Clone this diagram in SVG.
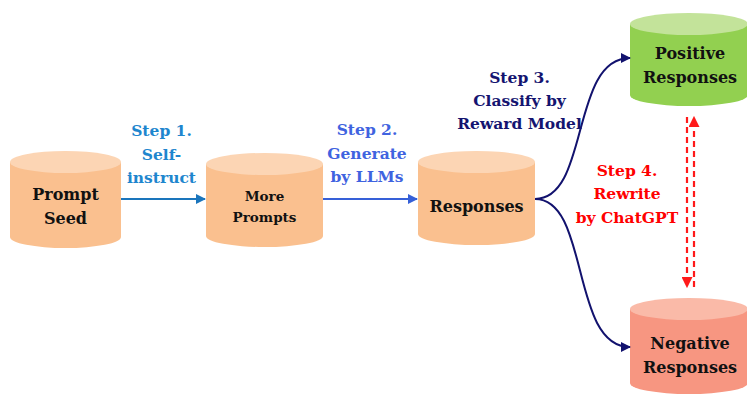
<svg xmlns="http://www.w3.org/2000/svg" width="747" height="394" viewBox="0 0 747 394">
<defs>
<style>
text{font-family:'DejaVu Serif',serif;font-weight:bold;text-anchor:middle}
.node{font-size:16px;fill:#111}
.small{font-size:13.5px;fill:#111}
.step{font-size:15.5px}
.orange .body{fill:#FAC08F}
.orange .top{fill:#FCD5B4}
.green .body{fill:#92D050}
.green .top{fill:#C3E39A}
.red .body{fill:#F79681}
.red .top{fill:#FABAA8}
</style>
<marker id="a1" viewBox="0 0 10 10" refX="9" refY="5" markerWidth="5" markerHeight="5" orient="auto"><path d="M0,0 L10,5 L0,10 Z" fill="#1A75BC"/></marker>
<marker id="a2" viewBox="0 0 10 10" refX="9" refY="5" markerWidth="5" markerHeight="5" orient="auto"><path d="M0,0 L10,5 L0,10 Z" fill="#3660D8"/></marker>
<marker id="a3" viewBox="0 0 10 10" refX="9" refY="5" markerWidth="5" markerHeight="5" orient="auto"><path d="M0,0 L10,5 L0,10 Z" fill="#12126E"/></marker>
<marker id="a4" viewBox="0 0 10 10" refX="9" refY="5" markerWidth="5" markerHeight="5" orient="auto"><path d="M0,0 L10,5 L0,10 Z" fill="#FF1A1A"/></marker>
</defs>
<rect width="747" height="394" fill="#fff"/>

<g id="prompt-seed" class="orange">
<path class="body" d="M10,162 L10,237 A55.5,11 0 0 0 121,237 L121,162 Z"/>
<ellipse class="top" cx="65.5" cy="162" rx="55.5" ry="11"/>
<text class="node" x="65.5" y="200">Prompt</text>
<text class="node" x="65.5" y="224">Seed</text>
</g>

<g id="more-prompts" class="orange">
<path class="body" d="M206,164 L206,236 A58.5,11 0 0 0 323,236 L323,164 Z"/>
<ellipse class="top" cx="264.5" cy="164" rx="58.5" ry="11"/>
<text class="small" x="264.5" y="201">More</text>
<text class="small" x="264.5" y="222">Prompts</text>
</g>

<g id="responses" class="orange">
<path class="body" d="M418,162 L418,234 A58.5,11 0 0 0 535,234 L535,162 Z"/>
<ellipse class="top" cx="476.5" cy="162" rx="58.5" ry="11"/>
<text class="node" x="476.5" y="212">Responses</text>
</g>

<g id="positive" class="green">
<path class="body" d="M630,24 L630,95 A59,11 0 0 0 748,95 L748,24 Z"/>
<ellipse class="top" cx="689" cy="24" rx="59" ry="11"/>
<text class="node" x="690" y="59">Positive</text>
<text class="node" x="690" y="83">Responses</text>
</g>

<g id="negative" class="red">
<path class="body" d="M630,309 L630,383 A59,11 0 0 0 748,383 L748,309 Z"/>
<ellipse class="top" cx="689" cy="309" rx="59" ry="11"/>
<text class="node" x="690" y="349">Negative</text>
<text class="node" x="690" y="373">Responses</text>
</g>

<g id="connectors" fill="none">
<line x1="121" y1="199" x2="205" y2="199" stroke="#1A75BC" stroke-width="2" marker-end="url(#a1)"/>
<line x1="323" y1="199" x2="417" y2="199" stroke="#3660D8" stroke-width="2" marker-end="url(#a2)"/>
<path d="M535,199 C590,199 570,58 630,58" stroke="#12126E" stroke-width="2" marker-end="url(#a3)"/>
<path d="M535,199 C590,199 570,347 630,347" stroke="#12126E" stroke-width="2" marker-end="url(#a3)"/>
<line x1="687" y1="117" x2="687" y2="287" stroke="#FF1A1A" stroke-width="2.2" stroke-dasharray="6,4" marker-end="url(#a4)"/>
<line x1="694" y1="287" x2="694" y2="117" stroke="#FF1A1A" stroke-width="2.2" stroke-dasharray="6,4" marker-end="url(#a4)"/>
</g>

<g id="labels">
<text class="step" fill="#1E86CE" x="161.5" y="136">Step 1.</text>
<text class="step" fill="#1E86CE" x="161.5" y="160">Self-</text>
<text class="step" fill="#1E86CE" x="161.5" y="183">instruct</text>
<text class="step" fill="#3F63E0" x="367" y="135">Step 2.</text>
<text class="step" fill="#3F63E0" x="367" y="159">Generate</text>
<text class="step" fill="#3F63E0" x="367" y="182">by LLMs</text>
<text class="step" fill="#141470" x="519.5" y="83">Step 3.</text>
<text class="step" fill="#141470" x="519.5" y="106">Classify by</text>
<text class="step" fill="#141470" x="519.5" y="129">Reward Model</text>
<text class="step" fill="#FF0000" x="627" y="176">Step 4.</text>
<text class="step" fill="#FF0000" x="627" y="199">Rewrite</text>
<text class="step" fill="#FF0000" x="627" y="223">by ChatGPT</text>
</g>
</svg>
